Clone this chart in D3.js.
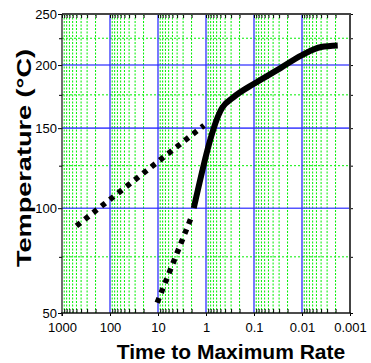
<!DOCTYPE html>
<html>
<head>
<meta charset="utf-8">
<script src="https://cdn.jsdelivr.net/npm/d3@7"></script>
<style>
  html, body { margin: 0; padding: 0; background: #fff; }
  svg { display: block; font-family: "Liberation Sans", Arial, sans-serif; }
</style>
</head>
<body>
<svg id="chart" width="371" height="363"></svg>
<script>
// Time to maximum rate (hours, log scale, reversed) vs temperature (°C, Arrhenius scale)
const xMajor = [1000, 100, 10, 1, 0.1, 0.01, 0.001];
const xLabels = ["1000", "100", "10", "1", "0.1", "0.01", "0.001"];
const yMajor = [50, 100, 150, 200, 250];
const yMinor = [75, 125, 175, 225];
const yGridMajor = [100, 150, 200];

// measured curve (solid)
const measuredTime = [1.8, 0.46, 0.27, 0.1, 0.033, 0.01, 0.004, 0.0018];
const measuredTemp = [100, 165, 173, 184, 195.5, 209, 216.5, 218];

// extrapolated trend, low temperature side (dotted)
const trendATime = [500, 1.1];
const trendATemp = [90.5, 152];

// extrapolated trend below the measured onset (dotted)
const trendBTime = [10.4, 2.1];
const trendBTemp = [54.3, 94];

const W = 371, H = 363;
const margin = { top: 14, right: 21, bottom: 50, left: 62 };
const svg = d3.select("#chart");

const x = d3.scaleLog().domain([1000, 0.001]).range([margin.left, W - margin.right]);

// Arrhenius-style temperature axis: linear in -1/T(K)
const inv = T => -1 / (T + 273.15);
const yLin = d3.scaleLinear().domain([inv(50), inv(250)]).range([H - margin.bottom, margin.top]);
const y = T => yLin(inv(T));

const x0 = margin.left, x1 = W - margin.right, y0 = margin.top, y1 = H - margin.bottom;

// minor decade positions 2..9 in every decade
const xMinor = [];
for (let k = -3; k < 3; k++) {
  for (let m = 2; m <= 9; m++) xMinor.push(m * Math.pow(10, k));
}

// green dotted minor grid
const grid = svg.append("g");
grid.selectAll("line.vmin").data(xMinor).join("line")
  .attr("x1", d => x(d)).attr("x2", d => x(d))
  .attr("y1", y0).attr("y2", y1)
  .attr("stroke", "#00ee00").attr("stroke-width", 1)
  .attr("stroke-dasharray", "2,1.5");
grid.selectAll("line.hmin").data(yMinor).join("line")
  .attr("x1", x0).attr("x2", x1)
  .attr("y1", d => y(d)).attr("y2", d => y(d))
  .attr("stroke", "#00ee00").attr("stroke-width", 1)
  .attr("stroke-dasharray", "2,2");

// blue major grid
grid.selectAll("line.vmaj").data(xMajor.slice(1, -1)).join("line")
  .attr("x1", d => x(d)).attr("x2", d => x(d))
  .attr("y1", y0).attr("y2", y1)
  .attr("stroke", "#2a2aff").attr("stroke-opacity", 0.8).attr("stroke-width", 1.6);
grid.selectAll("line.hmaj").data(yGridMajor).join("line")
  .attr("x1", x0).attr("x2", x1)
  .attr("y1", d => y(d)).attr("y2", d => y(d))
  .attr("stroke", "#2a2aff").attr("stroke-opacity", 0.8).attr("stroke-width", 1.6);

// data lines
const toPts = (ts, Ts) => ts.map((t, i) => ({ t, T: Ts[i] }));
const line = d3.line().x(d => x(d.t)).y(d => y(d.T));

svg.append("path").datum(toPts(trendATime, trendATemp))
  .attr("d", line.curve(d3.curveLinear))
  .attr("fill", "none").attr("stroke", "#000").attr("stroke-width", 5.5)
  .attr("stroke-dasharray", "5,5.6");
svg.append("path").datum(toPts(trendBTime, trendBTemp))
  .attr("d", line.curve(d3.curveLinear))
  .attr("fill", "none").attr("stroke", "#000").attr("stroke-width", 5.5)
  .attr("stroke-dasharray", "5,5.6");
svg.append("path").datum(toPts(measuredTime, measuredTemp))
  .attr("d", line.curve(d3.curveMonotoneX))
  .attr("fill", "none").attr("stroke", "#000").attr("stroke-width", 6)
  .attr("stroke-linejoin", "round");

// axes
const fmtT = v => String(Math.round(-1 / v - 273.15));

svg.append("g").attr("transform", `translate(${x0},0)`)
  .call(d3.axisLeft(yLin).tickValues(yMajor.map(inv)).tickFormat(fmtT).tickSize(4).tickPadding(1).tickSizeOuter(0));
svg.append("g").attr("transform", `translate(${x0},0)`)
  .call(d3.axisLeft(yLin).tickValues(yMinor.map(inv)).tickFormat("").tickSize(3).tickSizeOuter(0));
svg.append("g").attr("transform", `translate(${x1},0)`)
  .call(d3.axisRight(yLin).tickValues(yMajor.concat(yMinor).map(inv)).tickFormat("").tickSize(3).tickSizeOuter(0));

svg.append("g").attr("transform", `translate(0,${y1})`)
  .call(d3.axisBottom(x).tickValues(xMajor).tickFormat((d, i) => xLabels[i]).tickSize(3).tickPadding(6.5).tickSizeOuter(0));
svg.append("g").attr("transform", `translate(0,${y1})`)
  .call(d3.axisBottom(x).tickValues(xMinor).tickFormat("").tickSize(-4).tickSizeOuter(0));
svg.append("g").attr("transform", `translate(0,${y0})`)
  .call(d3.axisTop(x).tickValues(xMinor.concat(xMajor)).tickFormat("").tickSize(-4).tickSizeOuter(0));

svg.selectAll(".domain").attr("stroke", "none");
svg.selectAll(".tick line").attr("stroke", "#000");
svg.selectAll(".tick text").attr("font-size", 13).attr("fill", "#000")
  .attr("font-family", "'Liberation Sans', Arial, sans-serif");

// frame
const frame = svg.append("g").attr("fill", "none");
frame.append("line").attr("x1", x0).attr("x2", x1 + 1).attr("y1", y0).attr("y2", y0)
  .attr("stroke", "#444").attr("stroke-width", 2);
frame.append("line").attr("x1", x1).attr("x2", x1).attr("y1", y0).attr("y2", y1)
  .attr("stroke", "#444").attr("stroke-width", 2);
frame.append("line").attr("x1", x0 - 1).attr("x2", x1 + 1).attr("y1", y1).attr("y2", y1)
  .attr("stroke", "#111").attr("stroke-width", 1.5);
frame.append("line").attr("x1", x0).attr("x2", x0).attr("y1", y0).attr("y2", y1 + 3)
  .attr("stroke", "#111").attr("stroke-width", 1.2);

// axis titles
svg.append("text")
  .attr("x", 231).attr("y", 358.5)
  .attr("text-anchor", "middle")
  .attr("font-size", 21).attr("font-weight", "bold")
  .text("Time to Maximum Rate");

svg.append("text")
  .attr("transform", "translate(31,158) rotate(-90)")
  .attr("text-anchor", "middle")
  .attr("font-size", 21).attr("font-weight", "bold")
  .attr("textLength", 218).attr("lengthAdjust", "spacingAndGlyphs")
  .text("Temperature (°C)");
</script>
</body>
</html>
